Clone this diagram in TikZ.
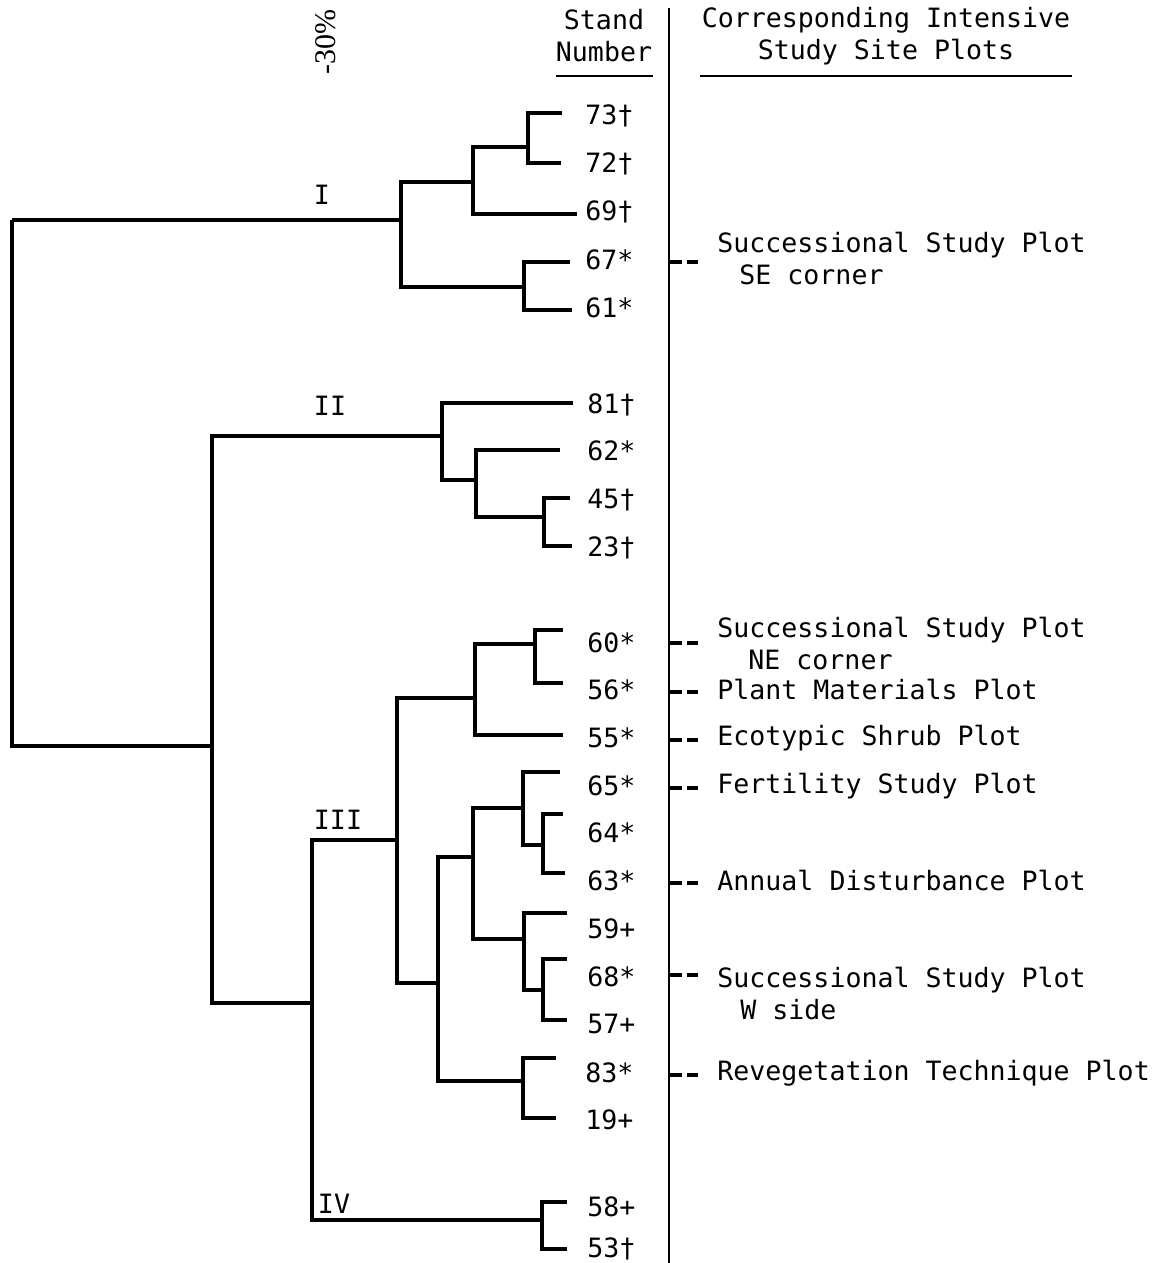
\documentclass[tikz,border=0pt]{standalone}
\usepackage{fontspec}
\setmonofont{DejaVu Sans Mono}
\newfontfamily\pctfont{Liberation Serif}
\usetikzlibrary{positioning}

\begin{document}
\begin{tikzpicture}[
    x=0.5pt, y=-0.5pt,
    branch/.style={line width=2pt},
    rule/.style={line width=1.3pt},
    tick/.style={line width=1.8pt, dash pattern=on 6.5pt off 2.5pt, shorten >=9.5pt},
    leaf/.style={anchor=west, inner sep=0pt, font=\fontsize{13.3}{16}\selectfont\ttfamily},
    site/.style={anchor=west, inner sep=0pt, align=left, font=\fontsize{13.3}{16}\selectfont\ttfamily},
    head/.style={inner sep=0pt, align=center, font=\fontsize{13.3}{16}\selectfont\ttfamily},
    roman/.style={inner sep=0pt, font=\fontsize{13.3}{16}\selectfont\ttfamily},
]
    \useasboundingbox (0,0) rectangle (1167,1263);

    % Header
    \node[inner sep=0pt, rotate=90, font=\fontsize{15}{17}\selectfont\pctfont] (pct) at (326,42) {-30\%};
    \node[head] (stand) at (604,36) {Stand\\Number};
    \node[head] (sites) at (886,36) {Corresponding Intensive\\Study Site Plots};
    \coordinate (ulA) at (556,76);
    \coordinate (ulB) at (653,76);
    \coordinate (ulC) at (700,76);
    \coordinate (ulD) at (1072,76);
    \draw[rule] (ulA) -- (ulB);
    \draw[rule] (ulC) -- (ulD);
    \coordinate (septop) at (669,8);
    \coordinate (sepbot) at (669,1263);
    \draw[rule] (septop) -- (sepbot);

    % Stand numbers
    \node[leaf] (s73) at (585,116) {73†};
    \node[leaf] (s72) at (585,164) {72†};
    \node[leaf] (s69) at (585,212) {69†};
    \node[leaf] (s67) at (585,260) {67*};
    \node[leaf] (s61) at (585,308) {61*};
    \node[leaf] (s81) at (587,405) {81†};
    \node[leaf] (s62) at (587,451) {62*};
    \node[leaf] (s45) at (587,500) {45†};
    \node[leaf] (s23) at (587,548) {23†};
    \node[leaf] (s60) at (587,643) {60*};
    \node[leaf] (s56) at (587,690) {56*};
    \node[leaf] (s55) at (587,738) {55*};
    \node[leaf] (s65) at (587,786) {65*};
    \node[leaf] (s64) at (587,833) {64*};
    \node[leaf] (s63) at (587,881) {63*};
    \node[leaf] (s59) at (587,929) {59+};
    \node[leaf] (s68) at (587,977) {68*};
    \node[leaf] (s57) at (587,1024) {57+};
    \node[leaf] (s83) at (585,1073) {83*};
    \node[leaf] (s19) at (585,1120) {19+};
    \node[leaf] (s58) at (587,1207) {58+};
    \node[leaf] (s53) at (587,1249) {53†};

    % Group labels
    \node[roman] (gI) at (322,195) {I};
    \node[roman] (gII) at (330,406) {II};
    \node[roman] (gIII) at (338,820) {III};
    \node[roman] (gIV) at (334,1204) {IV};

    % Branch ends
    \coordinate (e73) at (562,113);
    \coordinate (e72) at (561,163);
    \coordinate (e69) at (577,214);
    \coordinate (e67) at (570,262);
    \coordinate (e61) at (572,310);
    \coordinate (e81) at (573,403);
    \coordinate (e62) at (560,450);
    \coordinate (e45) at (570,498);
    \coordinate (e23) at (572,546);
    \coordinate (e60) at (563,630);
    \coordinate (e56) at (563,683);
    \coordinate (e55) at (563,735);
    \coordinate (e65) at (560,772);
    \coordinate (e64) at (563,814);
    \coordinate (e63) at (565,873);
    \coordinate (e59) at (567,913);
    \coordinate (e68) at (567,959);
    \coordinate (e57) at (567,1020);
    \coordinate (e83) at (556,1058);
    \coordinate (e19) at (556,1118);
    \coordinate (e58) at (567,1202);
    \coordinate (e53) at (567,1249);

    % Joins
    \coordinate (root) at (12,220);
    \coordinate (jI) at (401,220);
    \coordinate (jI1) at (473,182);
    \coordinate (jI2) at (528,147);
    \coordinate (jI3) at (524,287);
    \coordinate (jII) at (442,436);
    \coordinate (jII1) at (476,480);
    \coordinate (jII2) at (544,517);
    \coordinate (jIII) at (397,840);
    \coordinate (jIII1) at (475,698);
    \coordinate (jIII2) at (535,644);
    \coordinate (jIII3) at (438,983);
    \coordinate (jIII4) at (473,857);
    \coordinate (jIII5) at (523,808);
    \coordinate (jIII6) at (543,845);
    \coordinate (jIII7) at (524,939);
    \coordinate (jIII8) at (543,990);
    \coordinate (jIII9) at (523,1081);
    \coordinate (jIV) at (542,1220);
    \coordinate (jA) at (212,746);
    \coordinate (jB) at (312,1003);

    \draw[branch] (root) |- (jI);
    \draw[branch] (root) |- (jA);
    \draw[branch] (jA) |- (jII);
    \draw[branch] (jA) |- (jB);
    \draw[branch] (jB) |- (jIII);
    \draw[branch] (jB) |- (jIV);

    \draw[branch] (jI) |- (jI1);
    \draw[branch] (jI) |- (jI3);
    \draw[branch] (jI1) |- (jI2);
    \draw[branch] (jI1) |- (e69);
    \draw[branch] (jI2) |- (e73);
    \draw[branch] (jI2) |- (e72);
    \draw[branch] (jI3) |- (e67);
    \draw[branch] (jI3) |- (e61);

    \draw[branch] (jII) |- (e81);
    \draw[branch] (jII) |- (jII1);
    \draw[branch] (jII1) |- (e62);
    \draw[branch] (jII1) |- (jII2);
    \draw[branch] (jII2) |- (e45);
    \draw[branch] (jII2) |- (e23);

    \draw[branch] (jIII) |- (jIII1);
    \draw[branch] (jIII) |- (jIII3);
    \draw[branch] (jIII1) |- (jIII2);
    \draw[branch] (jIII1) |- (e55);
    \draw[branch] (jIII2) |- (e60);
    \draw[branch] (jIII2) |- (e56);
    \draw[branch] (jIII3) |- (jIII4);
    \draw[branch] (jIII3) |- (jIII9);
    \draw[branch] (jIII4) |- (jIII5);
    \draw[branch] (jIII4) |- (jIII7);
    \draw[branch] (jIII5) |- (e65);
    \draw[branch] (jIII5) |- (jIII6);
    \draw[branch] (jIII6) |- (e64);
    \draw[branch] (jIII6) |- (e63);
    \draw[branch] (jIII7) |- (e59);
    \draw[branch] (jIII7) |- (jIII8);
    \draw[branch] (jIII8) |- (e68);
    \draw[branch] (jIII8) |- (e57);
    \draw[branch] (jIII9) |- (e83);
    \draw[branch] (jIII9) |- (e19);

    \draw[branch] (jIV) |- (e58);
    \draw[branch] (jIV) |- (e53);

    % Study site plots
    \node[site] (p67) at (717,259) {Successional Study Plot\\\hspace*{11pt}SE corner};
    \node[site] (p60) at (717,644) {Successional Study Plot\\\hspace*{15.5pt}NE corner};
    \node[site] (p56) at (717,690) {Plant Materials Plot};
    \node[site] (p55) at (717,738) {Ecotypic Shrub Plot};
    \node[site] (p65) at (717,786) {Fertility Study Plot};
    \node[site] (p63) at (717,881) {Annual Disturbance Plot};
    \node[site] (p68) at (717,993) {Successional Study Plot\\\hspace*{11.5pt}W side};
    \node[site] (p83) at (717,1073) {Revegetation Technique Plot};

    \coordinate (t67) at (669,262);
    \coordinate (t60) at (669,643);
    \coordinate (t56) at (669,692);
    \coordinate (t55) at (669,740);
    \coordinate (t65) at (669,788);
    \coordinate (t63) at (669,883);
    \coordinate (t68) at (669,975);
    \coordinate (t83) at (669,1075);
    \draw[tick] (t67) -- (t67 -| p67.west);
    \draw[tick] (t60) -- (t60 -| p60.west);
    \draw[tick] (t56) -- (t56 -| p56.west);
    \draw[tick] (t55) -- (t55 -| p55.west);
    \draw[tick] (t65) -- (t65 -| p65.west);
    \draw[tick] (t63) -- (t63 -| p63.west);
    \draw[tick] (t68) -- (t68 -| p68.west);
    \draw[tick] (t83) -- (t83 -| p83.west);
\end{tikzpicture}
\end{document}
